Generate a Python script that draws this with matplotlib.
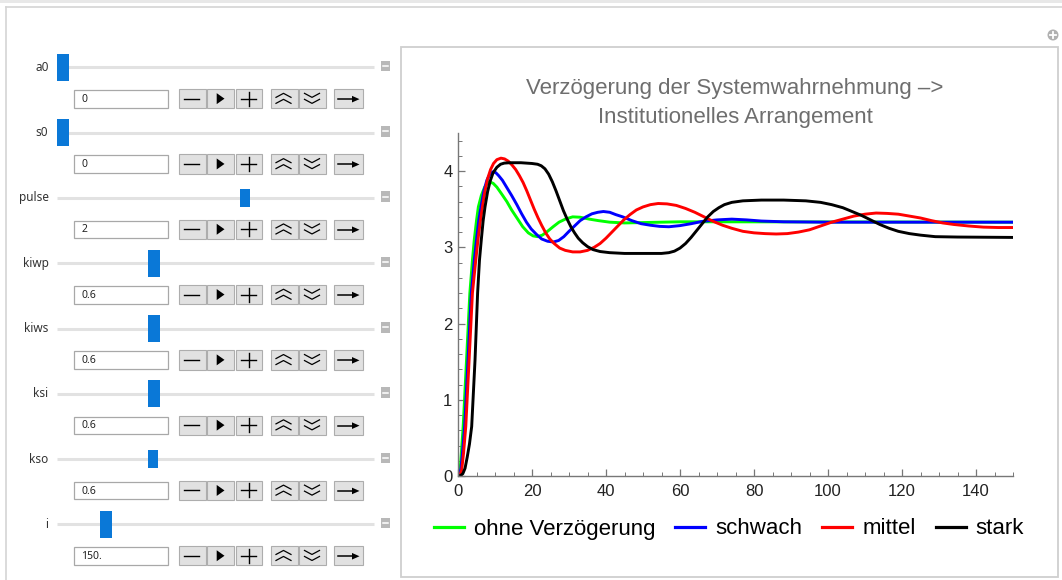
import numpy as np
import matplotlib.pyplot as plt
from matplotlib.patches import Rectangle, Circle
from matplotlib.lines import Line2D

# =======================
# data
# =======================
t_green = [0, 0.3, 0.6, 0.9, 1.4, 2.3, 3.2, 3.9, 4.4, 5.0, 5.5, 6.3, 7.2, 7.9, 8.5, 9.5, 10.5, 11.8, 13.2, 14.5,
           16, 17.5, 19, 20.3, 21.5, 22.8, 24.2, 25.7, 27.3, 29, 31, 33, 35.5, 38, 41, 45, 50, 60, 70, 150]
y_green = [0, 0.02, 0.1, 0.3, 0.65, 1.52, 2.40, 2.83, 3.10, 3.35, 3.53, 3.68, 3.79, 3.84, 3.86, 3.84, 3.79, 3.70, 3.60, 3.49,
           3.38, 3.27, 3.19, 3.15, 3.14, 3.16, 3.21, 3.27, 3.33, 3.37, 3.40, 3.395, 3.37, 3.35, 3.33, 3.32, 3.325, 3.335, 3.335, 3.33]

t_blue = [0, 0.4, 0.8, 1.2, 1.8, 2.7, 3.6, 4.4, 5.0, 5.6, 6.2, 7.0, 7.8, 8.6, 9.4, 10.2, 11, 12, 13, 14.5,
          15.9, 17.2, 18.5, 19.8, 21.2, 22.6, 24.2, 25.8, 27.2, 28.6, 30, 31.5, 33, 34.6, 36.2, 37.8, 39.3, 41, 42.6, 44.5,
          47, 49.5, 52, 54.5, 57, 60, 63, 66, 70, 74, 78, 82, 88, 100, 150]
y_blue = [0, 0.02, 0.1, 0.3, 0.65, 1.52, 2.40, 2.83, 3.10, 3.35, 3.53, 3.74, 3.88, 3.96, 3.99, 3.98, 3.94, 3.88, 3.80, 3.68,
          3.56, 3.44, 3.33, 3.24, 3.17, 3.11, 3.08, 3.07, 3.09, 3.14, 3.21, 3.28, 3.35, 3.40, 3.44, 3.46, 3.47, 3.46, 3.43, 3.40,
          3.35, 3.31, 3.29, 3.275, 3.27, 3.285, 3.31, 3.34, 3.36, 3.37, 3.36, 3.345, 3.335, 3.33, 3.33]

t_red = [0, 0.6, 1.0, 1.5, 2.1, 3.0, 3.9, 4.8, 5.4, 6.0, 6.6, 7.3, 8.0, 8.8, 9.6, 10.5, 11.6, 12.6, 13.6, 14.6,
         15.6, 16.6, 17.6, 18.6, 19.6, 20.6, 21.6, 22.6, 23.7, 24.8, 26, 27.5, 29, 31, 33, 35, 36.8, 38.4, 40, 41.6,
         43.2, 44.8, 46.5, 48.2, 50, 52, 54.1, 56.5, 59, 61.5, 64, 66.5, 69, 71.5, 74, 77, 80, 83, 86, 89,
         92, 95, 98, 101, 104, 107, 110, 113, 116, 119, 122, 125, 128, 131, 134, 138, 142, 146, 150]
y_red = [0, 0.02, 0.08, 0.3, 0.65, 1.52, 2.40, 2.83, 3.10, 3.33, 3.53, 3.74, 3.90, 4.02, 4.10, 4.15, 4.17, 4.16, 4.13, 4.08,
         4.02, 3.94, 3.85, 3.74, 3.62, 3.50, 3.39, 3.29, 3.19, 3.11, 3.05, 2.99, 2.96, 2.94, 2.94, 2.96, 3.00, 3.05, 3.12, 3.20,
         3.28, 3.36, 3.43, 3.49, 3.53, 3.56, 3.575, 3.57, 3.55, 3.51, 3.46, 3.40, 3.34, 3.29, 3.25, 3.21, 3.19, 3.18, 3.175, 3.18,
         3.20, 3.23, 3.28, 3.33, 3.37, 3.41, 3.435, 3.45, 3.445, 3.435, 3.41, 3.385, 3.35, 3.32, 3.30, 3.28, 3.265, 3.26, 3.26]

t_black = [0, 0.8, 1.3, 1.9, 2.5, 3.1, 3.7, 4.6, 5.3, 5.8, 6.3, 6.8, 7.3, 8.0, 8.7, 9.5, 10.5, 11.5, 12.5, 14,
           17, 20, 21.5, 22.5, 23.5, 24.5, 25.5, 26.5, 27.5, 28.5, 29.5, 30.5, 31.5, 32.5, 33.7, 35, 36.5, 38.4, 41, 45,
           50, 55, 57, 58.5, 60, 61.5, 63, 64.5, 66, 67.5, 69, 70.5, 72, 74, 77, 82, 88, 94, 98, 101,
           104, 106.5, 109, 111.5, 114, 116.5, 119, 122, 125, 129, 135, 150]
y_black = [0, 0.01, 0.03, 0.1, 0.25, 0.42, 0.65, 1.52, 2.40, 2.83, 3.10, 3.35, 3.53, 3.73, 3.87, 3.98, 4.05, 4.09, 4.105, 4.11,
           4.11, 4.10, 4.09, 4.07, 4.03, 3.96, 3.86, 3.74, 3.61, 3.48, 3.37, 3.27, 3.19, 3.12, 3.06, 3.01, 2.97, 2.945, 2.93, 2.92,
           2.92, 2.92, 2.93, 2.95, 2.99, 3.05, 3.13, 3.22, 3.31, 3.40, 3.47, 3.52, 3.56, 3.59, 3.61, 3.62, 3.62, 3.61, 3.59, 3.56,
           3.52, 3.47, 3.42, 3.36, 3.30, 3.25, 3.21, 3.18, 3.16, 3.14, 3.135, 3.13]

series_names = ["ohne Verzögerung", "schwach", "mittel", "stark"]
series_colors = ["#00ff00", "#0000ff", "#ff0000", "#000000"]

# slider panel (Manipulate controls)
slider_labels = ["a0", "s0", "pulse", "kiwp", "kiws", "ksi", "kso", "i"]
slider_texts = ["0", "0", "2", "0.6", "0.6", "0.6", "0.6", "150."]
slider_pos = [0.0, 0.0, 0.597, 0.298, 0.298, 0.298, 0.295, 0.141]
slider_small = [False, False, True, False, False, False, True, False]

title = "Verzögerung der Systemwahrnehmung –>\nInstitutionelles Arrangement"

# =======================
# figure
# =======================
W, H = 1062, 580
fig = plt.figure(figsize=(W / 100, H / 100), dpi=100)
fig.patch.set_facecolor("white")

bg = fig.add_axes([0, 0, 1, 1])
bg.set_xlim(0, W)
bg.set_ylim(H, 0)
bg.axis("off")

# outer frame
bg.add_patch(Rectangle((0, 0), W, 2.5, color="#e8e8e8", lw=0))
bg.plot([6, W], [6.7, 6.7], color="#d4d4d4", lw=1.2)
bg.plot([6, 6], [6.7, H], color="#d4d4d4", lw=1.2)
bg.add_patch(Rectangle((401, 47), 657, 530, fill=False, ec="#cfcfcf", lw=1.3))
bg.add_patch(Circle((1053, 35), 5.5, color="#b0b0b0", lw=0))
bg.plot([1050, 1056], [35, 35], color="white", lw=1.3)
bg.plot([1053, 1053], [32, 38], color="white", lw=1.3)

btn_x = [(179, 206), (207, 234), (236, 262), (271, 298), (299, 326), (334, 363)]
for k, lab in enumerate(slider_labels):
    yc = 67.3 + 65.3 * k
    bg.text(48.5, yc, lab, ha="right", va="center", fontsize=8.5, color="#333333", family="Noto Sans")
    bg.plot([57, 374], [yc, yc], color="#e2e2e2", lw=2.2, solid_capstyle="butt", zorder=1)
    xc = 63 + 305 * slider_pos[k]
    if slider_small[k]:
        bg.add_patch(Rectangle((xc - 4.7, yc - 9), 9.4, 18, color="#0a78d7", lw=0, zorder=3))
    else:
        bg.add_patch(Rectangle((xc - 6, yc - 13.5), 12, 27, color="#0a78d7", lw=0, zorder=3))
    bg.add_patch(Rectangle((380.5, yc - 6.5), 9.5, 10.5, color="#b8b8b8", lw=0))
    bg.plot([382.5, 388], [yc - 1.3, yc - 1.3], color="white", lw=1.1)

    # input field
    bt, bb = yc + 22.7, yc + 40.4
    bg.add_patch(Rectangle((73.5, bt), 94, bb - bt, fc="white", ec="#a8a8a8", lw=0.9))
    bg.text(81.5, (bt + bb) / 2 + 0.5, slider_texts[k], ha="left", va="center", fontsize=7.5,
            color="#222222", family="Noto Sans")

    # buttons
    ct, cb = yc + 21.7, yc + 41
    cy = (ct + cb) / 2
    for x0, x1 in btn_x:
        bg.add_patch(Rectangle((x0, ct), x1 - x0, cb - ct, fc="#e1e1e1", ec="#adadad", lw=0.8))
    bg.plot([184, 199], [cy, cy], color="black", lw=1.0)
    bg.add_patch(plt.Polygon([[216.7, cy - 5.5], [216.7, cy + 5.5], [224.5, cy]], color="black", lw=0))
    bg.plot([241, 256], [cy, cy], color="black", lw=1.0)
    bg.plot([248.5, 248.5], [cy - 7, cy + 7], color="black", lw=1.0)
    for dy in (-5.3, 0.7):
        bg.plot([276, 283.5, 291], [cy + dy + 4, cy + dy, cy + dy + 4], color="black", lw=0.9)
        bg.plot([304.5, 312, 319.5], [cy + dy, cy + dy + 4, cy + dy], color="black", lw=0.9)
    bg.plot([338, 356], [cy + 0.5, cy + 0.5], color="black", lw=1.1)
    bg.add_patch(plt.Polygon([[352, cy - 2.8], [352, cy + 3.8], [359.5, cy + 0.5]], color="black", lw=0))

# =======================
# chart
# =======================
ax = fig.add_axes([458 / W, 1 - 476 / H, (1013 - 458) / W, (476 - 133) / H])
ax.patch.set_alpha(0)
for tt, yy, col, name in zip([t_green, t_blue, t_red, t_black], [y_green, y_blue, y_red, y_black],
                             series_colors, series_names):
    ax.plot(tt, yy, color=col, lw=2.1, label=name, solid_joinstyle="round", solid_capstyle="round")

ax.set_xlim(0, 150)
ax.set_ylim(0, 4.5)
ax.set_xticks(np.arange(0, 141, 20))
ax.set_xticks(np.arange(0, 151, 5), minor=True)
ax.set_yticks([0, 1, 2, 3, 4])
ax.set_yticks(np.arange(0, 4.5, 0.2), minor=True)
for s in ["top", "right"]:
    ax.spines[s].set_visible(False)
for s in ["left", "bottom"]:
    ax.spines[s].set_color("#777777")
    ax.spines[s].set_linewidth(1.0)
ax.tick_params(which="both", direction="in", color="#777777", labelsize=12, labelcolor="#222222")
ax.tick_params(which="major", length=5, width=0.9)
ax.tick_params(which="minor", length=3, width=0.7)
ax.tick_params(axis="x", pad=5.5)
ax.tick_params(axis="y", pad=4)
for lbl in ax.get_xticklabels() + ax.get_yticklabels():
    lbl.set_family("Liberation Sans")

fig.text(735 / W, 1 - 103 / H, title, ha="center", va="center", fontsize=16, color="#6e6e6e",
         family="Liberation Sans", linespacing=1.45)

handles = [Line2D([0], [0], color=c, lw=2.3) for c in series_colors]
leg = fig.legend(handles, series_names, loc="center", bbox_to_anchor=(729 / W, 1 - 529 / H), ncol=4,
                 frameon=False, handlelength=1.35, handletextpad=0.45, columnspacing=0.9,
                 prop={"family": "Liberation Sans", "size": 16})

fig.savefig("out.png", dpi=100)
